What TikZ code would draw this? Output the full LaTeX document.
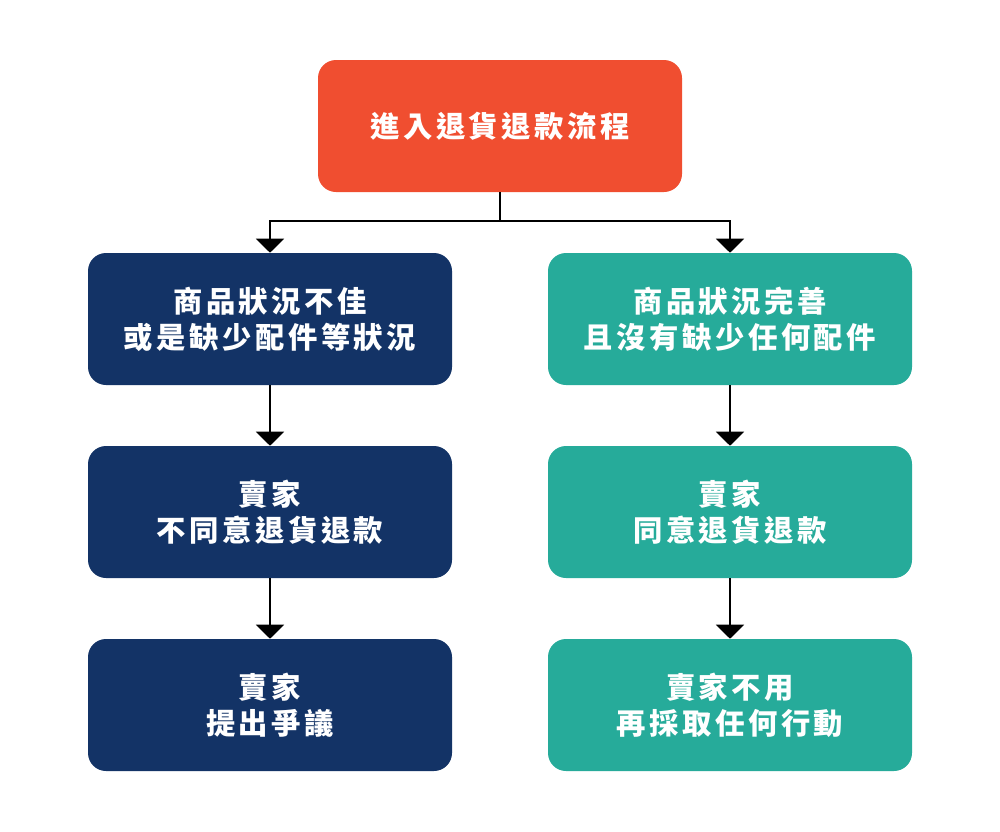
\documentclass[tikz,border=0pt]{standalone}
\usepackage{fontspec}
\newfontfamily\cjk{Noto Sans CJK TC}[LetterSpace=12]
\usetikzlibrary{arrows.meta}
\definecolor{topc}{HTML}{F04E30}
\definecolor{navy}{HTML}{133366}
\definecolor{teal}{HTML}{26AB9A}
\tikzset{
  box/.style={rounded corners=13.5pt, minimum width=273pt, minimum height=99pt,
    text=white, align=center, font=\cjk\bfseries\fontsize{22pt}{27pt}\selectfont, inner sep=0pt},
  navybox/.style={box, fill=navy},
  tealbox/.style={box, fill=teal},
  topbox/.style={box, fill=topc},
  arr/.style={line width=1.5pt, -{Triangle[width=21pt,length=10.5pt]}}
}
\begin{document}
\begin{tikzpicture}[x=0.75pt,y=-0.75pt]
\useasboundingbox (0,0) rectangle (1000,832);
\node[topbox] (top) at (500,126) {進入退貨退款流程};
\node[navybox] (l1) at (270,319) {商品狀況不佳\\或是缺少配件等狀況};
\node[navybox] (l2) at (270,512) {賣家\\不同意退貨退款};
\node[navybox] (l3) at (270,705) {賣家\\提出爭議};
\node[tealbox] (r1) at (730,319) {商品狀況完善\\且沒有缺少任何配件};
\node[tealbox] (r2) at (730,512) {賣家\\同意退貨退款};
\node[tealbox] (r3) at (730,705) {賣家不用\\再採取任何行動};
\coordinate (split) at (500,221);
\draw[line width=1.5pt] (top.south) -- (split);
\draw[arr] (split) -| (l1.north);
\draw[arr] (split) -| (r1.north);
\draw[arr] (l1) -- (l2);
\draw[arr] (l2) -- (l3);
\draw[arr] (r1) -- (r2);
\draw[arr] (r2) -- (r3);
\end{tikzpicture}
\end{document}
